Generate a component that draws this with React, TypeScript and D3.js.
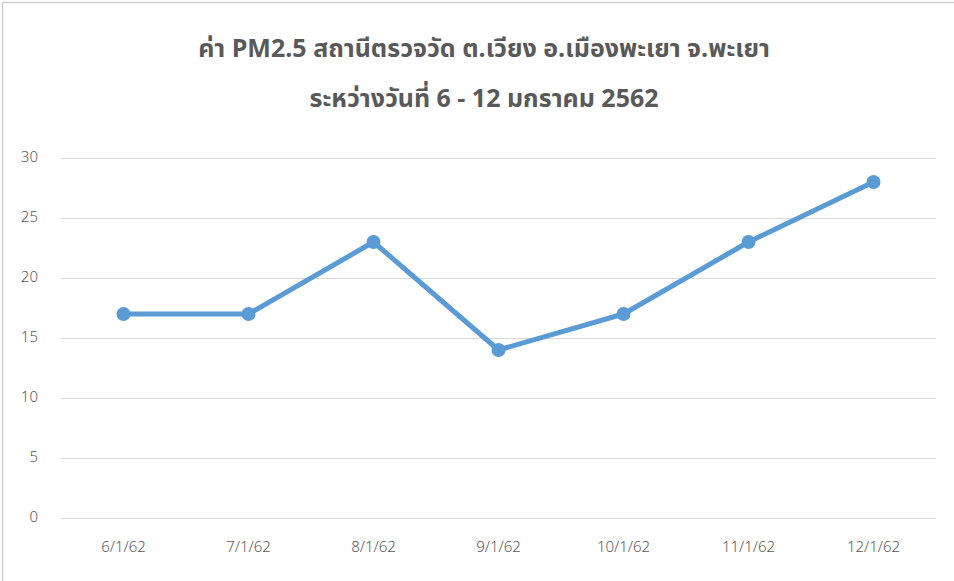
import React, { useEffect, useRef } from 'react';
import * as d3 from 'd3';

const categories = ['6/1/62', '7/1/62', '8/1/62', '9/1/62', '10/1/62', '11/1/62', '12/1/62'];
const pm25Values = [17, 17, 23, 14, 17, 23, 28];
const yTicks = [0, 5, 10, 15, 20, 25, 30];
const titleLines = [
  'ค่า PM2.5 สถานีตรวจวัด ต.เวียง อ.เมืองพะเยา จ.พะเยา',
  'ระหว่างวันที่ 6 - 12 มกราคม 2562',
];

const W = 954;
const H = 581;
const FONT = '"Noto Sans Thai", "Noto Sans", "DejaVu Sans", sans-serif';

export default function App() {
  const svgRef = useRef<SVGSVGElement>(null);

  useEffect(() => {
    if (!svgRef.current) return;
    const svg = d3.select(svgRef.current);
    svg.selectAll('*').remove();

    const margin = { top: 158, right: 18, bottom: 63, left: 61 };
    const innerW = W - margin.left - margin.right;
    const innerH = H - margin.top - margin.bottom;

    // chart frame
    svg.append('rect')
      .attr('x', 0).attr('y', 0).attr('width', W).attr('height', H)
      .attr('fill', '#fff');
    svg.append('rect')
      .attr('x', 2.5).attr('y', 2.5).attr('width', W + 10).attr('height', H + 10)
      .attr('fill', 'none')
      .attr('stroke', '#d0d0d0')
      .attr('stroke-width', 1.5);

    // title
    titleLines.forEach((t, i) => {
      svg.append('text')
        .attr('x', 484)
        .attr('y', 50 + i * 50)
        .attr('text-anchor', 'middle')
        .attr('dominant-baseline', 'middle')
        .style('font-family', FONT)
        .style('font-size', '25px')
        .style('font-weight', 'bold')
        .style('fill', '#595959')
        .text(t);
    });

    const g = svg.append('g')
      .attr('transform', `translate(${margin.left},${margin.top})`);

    const x = d3.scaleBand<string>()
      .domain(categories)
      .range([0, innerW]);

    const y = d3.scaleLinear()
      .domain([0, 30])
      .range([innerH, 0]);

    // gridlines
    g.selectAll('.grid')
      .data(yTicks)
      .enter()
      .append('line')
      .attr('x1', 0)
      .attr('x2', innerW)
      .attr('y1', d => Math.round(y(d)) + 0.5)
      .attr('y2', d => Math.round(y(d)) + 0.5)
      .attr('stroke', '#d9d9d9')
      .attr('stroke-width', 1);

    // y labels
    g.selectAll('.ylab')
      .data(yTicks)
      .enter()
      .append('text')
      .attr('x', -23)
      .attr('y', d => y(d))
      .attr('text-anchor', 'end')
      .attr('dominant-baseline', 'middle')
      .style('font-family', FONT)
      .style('font-size', '15px')
      .style('font-weight', '300')
      .style('fill', '#595959')
      .text(d => d);

    // x labels
    g.selectAll('.xlab')
      .data(categories)
      .enter()
      .append('text')
      .attr('x', d => x(d)! + x.bandwidth() / 2)
      .attr('y', innerH + 30)
      .attr('text-anchor', 'middle')
      .attr('dominant-baseline', 'middle')
      .style('font-family', FONT)
      .style('font-size', '15px')
      .style('font-weight', '300')
      .style('fill', '#595959')
      .text(d => d);

    const line = d3.line<number>()
      .x((_, i) => x(categories[i])! + x.bandwidth() / 2)
      .y(d => y(d));

    g.append('path')
      .datum(pm25Values)
      .attr('d', line)
      .attr('fill', 'none')
      .attr('stroke', '#5b9bd5')
      .attr('stroke-width', 5)
      .attr('stroke-linejoin', 'round')
      .attr('stroke-linecap', 'round');

    g.selectAll('.pt')
      .data(pm25Values)
      .enter()
      .append('circle')
      .attr('cx', (_, i) => x(categories[i])! + x.bandwidth() / 2)
      .attr('cy', d => y(d))
      .attr('r', 7)
      .attr('fill', '#5b9bd5');
  }, []);

  return (
    <div style={{ position: 'absolute', left: 0, top: 0 }}>
      <svg ref={svgRef} width={W} height={H} style={{ display: 'block' }} />
    </div>
  );
}
